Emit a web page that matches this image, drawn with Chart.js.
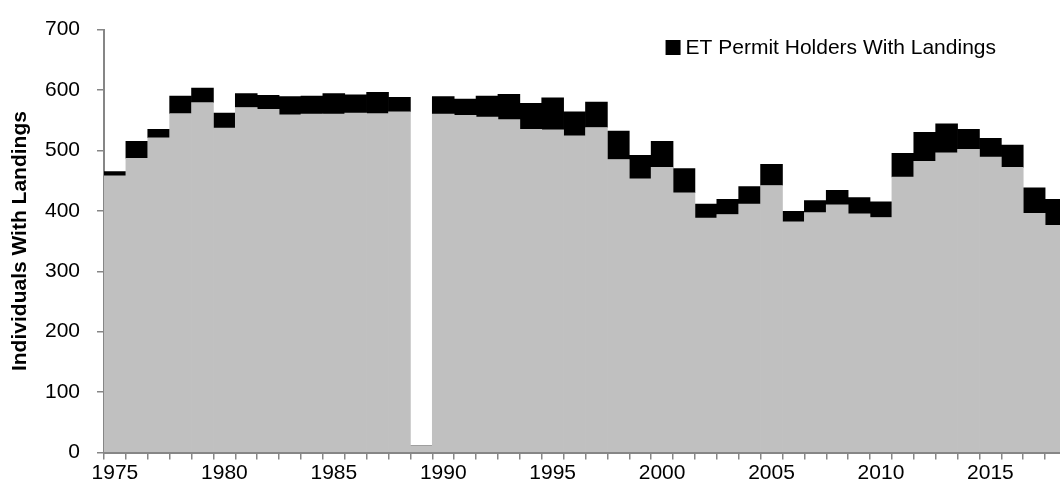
<!DOCTYPE html>
<html><head><meta charset="utf-8">
<script src="https://cdn.jsdelivr.net/npm/chart.js@4"></script>
<style>
html,body{margin:0;padding:0;background:#fff;overflow:hidden;width:1060px;height:497px}
#wrap{position:relative;width:1072px;height:497px}
</style></head><body><div id="wrap"><canvas id="c"></canvas></div>
<script>
const years=[1975,1976,1977,1978,1979,1980,1981,1982,1983,1984,1985,1986,1987,1988,1989,1990,1991,1992,1993,1994,1995,1996,1997,1998,1999,2000,2001,2002,2003,2004,2005,2006,2007,2008,2009,2010,2011,2012,2013,2014,2015,2016,2017,2018];
const otherIndividuals=[458,487,521,561,579,537,571,568,559,560,560,562,561,564,11,560,558,555,551,535,534,524,538,485,453,472,430,388,394,411,442,382,397,410,395,389,456,482,496,502,489,472,396,376];
const etPermitHolders=[7,28,14,29,24,25,23,23,30,30,34,30,35,24,0,29,27,35,42,43,53,40,42,47,39,43,40,23,25,29,35,17,20,24,27,26,39,48,48,33,31,37,42,43];
const yTickValues=[0,100,200,300,400,500,600,700];
const legendLabel='ET Permit Holders With Landings';
const yTitle='Individuals With Landings';

const FONT='"Liberation Sans", Arial, sans-serif';
Chart.defaults.font.family=FONT;
Chart.defaults.color='#000';

const legendPlugin={id:'etLegend',afterDraw(chart){
  const ctx=chart.ctx;ctx.save();
  ctx.font='21px '+FONT;
  const w=ctx.measureText(legendLabel).width;
  const x=996-w, y=48;
  ctx.fillStyle='#000';
  ctx.fillRect(x-20,y-8,15,15);
  ctx.textBaseline='middle';ctx.textAlign='left';
  ctx.fillText(legendLabel,x,y);
  ctx.restore();
}};

new Chart(document.getElementById('c'),{
  type:'bar',
  data:{labels:years.map(String),datasets:[
    {label:'Other',data:otherIndividuals,backgroundColor:'#C0C0C0',borderWidth:0,stack:'s'},
    {label:legendLabel,data:etPermitHolders,backgroundColor:'#000000',borderWidth:0,stack:'s'}
  ]},
  options:{
    responsive:true,maintainAspectRatio:false,animation:false,
    layout:{padding:{top:21,right:5,left:0,bottom:0}},
    datasets:{bar:{categoryPercentage:1,barPercentage:1}},
    plugins:{legend:{display:false},tooltip:{enabled:false}},
    scales:{
      x:{stacked:true,offset:true,
        grid:{offset:true,drawOnChartArea:false,drawTicks:true,tickLength:7,color:'#868686',lineWidth:1.5},
        border:{display:true,color:'#868686',width:2},
        ticks:{autoSkip:false,maxRotation:0,padding:1,font:{size:21},color:'#000',
          callback:(v,i)=>years[i]%5===0?String(years[i]):''},
        afterFit:(s)=>{s.height=44.5;}
      },
      y:{stacked:true,min:0,max:700,
        afterBuildTicks:(s)=>{s.ticks=yTickValues.map(v=>({value:v}));},
        grid:{drawOnChartArea:false,drawTicks:true,tickLength:7,color:'#868686',lineWidth:1.5},
        border:{display:true,color:'#868686',width:2},
        ticks:{padding:17,font:{size:21},color:'#000'},
        title:{display:true,text:yTitle,font:{size:21,weight:'bold'},color:'#000',padding:{top:8,bottom:0}},
        afterFit:(s)=>{s.width=104;}
      }
    }
  },
  plugins:[legendPlugin]
});
</script></body></html>
